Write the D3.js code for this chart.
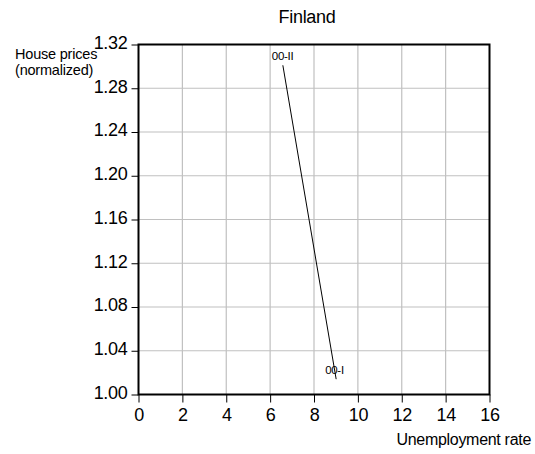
<!DOCTYPE html>
<html><head><meta charset="utf-8">
<script src="https://cdn.jsdelivr.net/npm/d3@7"></script>
<style>body{margin:0;background:#fff;} svg{display:block;font-family:"Liberation Sans",Arial,sans-serif;}</style>
</head><body>
<script>
const title = "Finland";
const periods = ["00-I", "00-II"];
const unemployment = [9.01, 6.58];
const housePrices = [1.014, 1.301];
const xTicks = [0, 2, 4, 6, 8, 10, 12, 14, 16];
const yTicks = [1.00, 1.04, 1.08, 1.12, 1.16, 1.20, 1.24, 1.28, 1.32];
const yLabelLines = ["House prices", "(normalized)"];
const xLabel = "Unemployment rate";

const W = 535, H = 454;
const m = {left: 138.5, right: 45.5, top: 44.5, bottom: 59.5};
const svg = d3.select("body").append("svg").attr("width", W).attr("height", H);
const x = d3.scaleLinear().domain([0, 16]).range([m.left, W - m.right]);
const y = d3.scaleLinear().domain([1.00, 1.32]).range([H - m.bottom, m.top]);

// grid
svg.append("g").selectAll("line.gx").data(xTicks.slice(1, -1)).join("line")
  .attr("x1", d => x(d)).attr("x2", d => x(d)).attr("y1", y(1.32)).attr("y2", y(1.00))
  .attr("stroke", "#c0c0c0").attr("stroke-width", 1.2);
svg.append("g").selectAll("line.gy").data(yTicks.slice(1, -1)).join("line")
  .attr("y1", d => y(d)).attr("y2", d => y(d)).attr("x1", x(0)).attr("x2", x(16))
  .attr("stroke", "#c0c0c0").attr("stroke-width", 1.2);

// axes
const xAxis = svg.append("g").attr("transform", `translate(0,${y(1.00)})`)
  .call(d3.axisBottom(x).tickValues(xTicks).tickFormat(d3.format("d")).tickSize(8).tickSizeOuter(0));
const yAxis = svg.append("g").attr("transform", `translate(${x(0)},0)`)
  .call(d3.axisLeft(y).tickValues(yTicks).tickFormat(d3.format(".2f")).tickSize(7).tickSizeOuter(0));
[xAxis, yAxis].forEach(g => {
  g.select(".domain").remove();
  g.selectAll(".tick line").attr("stroke", "#000").attr("stroke-width", 1);
  g.selectAll(".tick text").attr("fill", "#000").attr("font-size", 18)
    .attr("font-family", "'Liberation Sans',Arial,sans-serif").attr("letter-spacing", -0.3);
});
xAxis.selectAll(".tick text").attr("dy", "0.71em").attr("y", 14);
yAxis.selectAll(".tick text").attr("x", -11).attr("dy", "0.22em");

// frame
svg.append("rect").attr("x", x(0)).attr("y", y(1.32)).attr("width", x(16) - x(0)).attr("height", y(1.00) - y(1.32))
  .attr("fill", "none").attr("stroke", "#000").attr("stroke-width", 2);

// line
const pts = periods.map((p, i) => ({p, u: unemployment[i], h: housePrices[i]}));
svg.append("path").datum(pts)
  .attr("d", d3.line().x(d => x(d.u)).y(d => y(d.h)))
  .attr("fill", "none").attr("stroke", "#000").attr("stroke-width", 1);
svg.append("g").selectAll("text").data(pts).join("text")
  .attr("x", d => x(d.u) - 11).attr("y", d => y(d.h) - 5)
  .attr("font-size", 11.5).attr("letter-spacing", -0.3).text(d => d.p);

// titles
svg.append("text").attr("x", 307).attr("y", 23).attr("text-anchor", "middle")
  .attr("font-size", 18).attr("letter-spacing", -0.3).text(title);
svg.append("text").attr("font-size", 14.5).attr("letter-spacing", -0.2)
  .selectAll("tspan").data(yLabelLines).join("tspan")
  .attr("x", 15).attr("y", (d, i) => 59 + i * 16).text(d => d);
svg.append("text").attr("x", 531).attr("y", 445).attr("text-anchor", "end")
  .attr("font-size", 16).attr("letter-spacing", -0.3).text(xLabel);
</script>
</body></html>
